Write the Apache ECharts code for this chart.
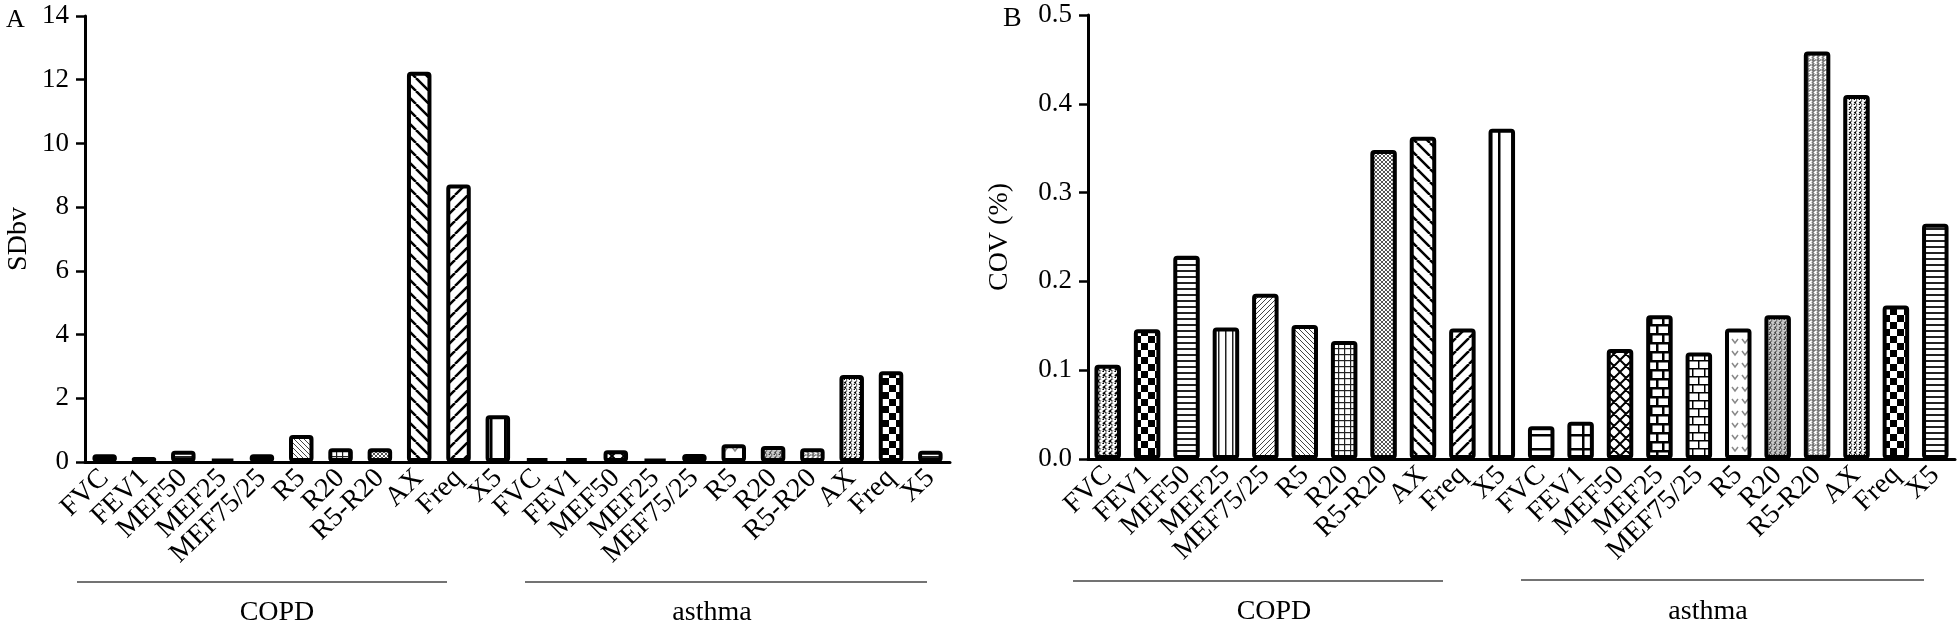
<!DOCTYPE html>
<html>
<head>
<meta charset="utf-8">
<script src="https://cdn.jsdelivr.net/npm/echarts@6/dist/echarts.min.js"></script>
<style>
html,body{margin:0;padding:0;background:#fff;}
#c{width:1960px;height:626px;}
</style>
</head>
<body>
<div id="c"></div>
<script>
// ---- data ----
const categories = ['FVC','FEV1','MEF50','MEF25','MEF75/25','R5','R20','R5-R20','AX','Freq','X5'];
const groups = ['COPD','asthma'];
const sdbvCOPD   = [0.24, 0.16, 0.35, 0.09, 0.24, 0.85, 0.43, 0.43, 12.25, 8.71, 1.47];
const sdbvAsthma = [0.12, 0.12, 0.37, 0.10, 0.25, 0.56, 0.50, 0.43, 2.73, 2.85, 0.35];
const covCOPD    = [0.106, 0.146, 0.229, 0.148, 0.186, 0.151, 0.133, 0.348, 0.363, 0.147, 0.372];
const covAsthma  = [0.037, 0.042, 0.124, 0.162, 0.120, 0.147, 0.162, 0.459, 0.410, 0.173, 0.265];
const sdbvTicks = [0, 14, 2];      // min, max, interval
const covTicks  = [0, 0.5, 0.1];

// ---- fill patterns (styles) ----
function mk(w, h, bg, draw) {
  const c = document.createElement('canvas');
  c.width = w; c.height = h;
  const g = c.getContext('2d');
  g.fillStyle = bg; g.fillRect(0, 0, w, h);
  g.strokeStyle = '#000'; g.fillStyle = '#000';
  draw(g, w, h);
  return { image: c, repeat: 'repeat' };
}
function diag(s, lw, col, fwd) {
  return mk(s, s, '#fff', (g) => {
    g.strokeStyle = col; g.lineWidth = lw; g.beginPath();
    for (let k = -1; k <= 1; k++) {
      if (fwd) { g.moveTo(k * s, s); g.lineTo(k * s + s, 0); }
      else { g.moveTo(k * s, 0); g.lineTo(k * s + s, s); }
    }
    g.stroke();
  });
}
function cross(s, lw, col) {
  return mk(s, s, '#fff', (g) => {
    g.strokeStyle = col; g.lineWidth = lw; g.beginPath();
    for (let k = -1; k <= 1; k++) {
      g.moveTo(k * s, s); g.lineTo(k * s + s, 0);
      g.moveTo(k * s, 0); g.lineTo(k * s + s, s);
    }
    g.stroke();
  });
}
function hlines(s, lw, col) { return mk(4, s, '#fff', (g) => { g.fillStyle = col; g.fillRect(0, 0, 4, lw); }); }
function vlines(s, lw, col) { return mk(s, 4, '#fff', (g) => { g.fillStyle = col; g.fillRect(0, 0, lw, 4); }); }
function grid(s, lw, col) { return mk(s, s, '#fff', (g) => { g.fillStyle = col; g.fillRect(0, 0, s, lw); g.fillRect(0, 0, lw, s); }); }
function checker(s) { return mk(2 * s, 2 * s, '#fff', (g) => { g.fillRect(0, 0, s, s); g.fillRect(s, s, s, s); }); }
function dots(s, r, bg, col) {
  return mk(s, s, bg, (g) => {
    g.fillStyle = col;
    g.beginPath(); g.arc(s / 2, s / 2, r, 0, Math.PI * 2); g.fill();
    g.beginPath(); g.arc(0, 0, r, 0, Math.PI * 2); g.arc(s, 0, r, 0, Math.PI * 2);
    g.arc(0, s, r, 0, Math.PI * 2); g.arc(s, s, r, 0, Math.PI * 2); g.fill();
  });
}
function brick(w, h, lw) {
  return mk(w, 2 * h, '#fff', (g) => {
    g.fillRect(0, 0, w, lw); g.fillRect(0, h, w, lw);
    g.fillRect(0, 0, lw, h); g.fillRect(w / 2, h, lw, h);
  });
}
function vmarks() {
  return mk(10, 12, '#fff', (g) => {
    g.strokeStyle = '#888'; g.lineWidth = 1.5; g.beginPath();
    g.moveTo(2, 3); g.lineTo(5, 7); g.lineTo(8, 3); g.stroke();
  });
}
const patterns = [
  dots(6, 1.8, '#000', '#fff'),   // FVC
  checker(7),                      // FEV1
  hlines(6, 2, '#222'),            // MEF50
  vlines(7, 1.5, '#222'),          // MEF25
  diag(5, 1, '#444', true),        // MEF75/25
  diag(5, 1, '#444', false),       // R5
  grid(6, 1.2, '#222'),            // R20
  cross(4, 1, '#555'),             // R5-R20
  diag(13, 2.5, '#000', false),    // AX
  diag(13, 2.5, '#000', true),     // Freq
  vlines(14, 2.5, '#000')          // X5
];
const patternsAsthma = [
  hlines(14, 2.5, '#000'),         // FVC
  grid(14, 2.5, '#000'),           // FEV1
  cross(12, 2, '#000'),            // MEF50
  brick(12, 9, 2.5),               // MEF25
  brick(12, 8, 1.5),               // MEF75/25
  vmarks(),                        // R5
  dots(5, 1.6, '#333', '#ccc'),    // R20
  dots(5, 1.0, '#fff', '#777'),    // R5-R20
  dots(5, 1.5, '#000', '#fff'),    // AX
  checker(7),                      // Freq
  hlines(6, 2, '#222')             // X5
];

const fam = 'Liberation Serif';
const keys = [];
groups.forEach(g => categories.forEach(c => keys.push(g + '|' + c)));

function barData(a, b) {
  return a.concat(b).map((v, i) => ({
    value: v,
    itemStyle: { color: i < categories.length ? patterns[i] : patternsAsthma[i - categories.length] }
  }));
}

function xAxisCfg(gi) {
  return {
    type: 'category', gridIndex: gi, data: keys,
    axisLine: { lineStyle: { color: '#000', width: 3 } },
    axisTick: { alignWithLabel: true, length: 12, lineStyle: { color: '#000', width: 2.5 } },
    axisLabel: { interval: 0, rotate: 44, margin: 12, color: '#000', fontFamily: fam, fontSize: 28,
      formatter: v => v.split('|')[1] }
  };
}
function yAxisCfg(gi, t, name, gap, fmt) {
  return {
    type: 'value', gridIndex: gi, min: t[0], max: t[1], interval: t[2],
    name: name, nameLocation: 'middle', nameGap: gap, nameRotate: 90,
    nameTextStyle: { color: '#000', fontFamily: fam, fontSize: 28 },
    splitLine: { show: false },
    axisLine: { show: true, lineStyle: { color: '#000', width: 3 } },
    axisTick: { show: true, length: 9, lineStyle: { color: '#000', width: 2.5 } },
    axisLabel: { color: '#000', fontFamily: fam, fontSize: 27, margin: 16, formatter: fmt }
  };
}

const chart = echarts.init(document.getElementById('c'), null, { renderer: 'canvas' });
const groupLines = [
  [77, 447, 582], [525, 927, 582], [1073, 1443, 581], [1521, 1924, 580]
];
const groupLabelPos = [[277, 613], [712, 613], [1274, 612], [1708, 612]];
const graphics = [];
groupLines.forEach(l => graphics.push({ type: 'line', shape: { x1: l[0], y1: l[2], x2: l[1], y2: l[2] },
  style: { stroke: '#444', lineWidth: 1.5 } }));
groupLabelPos.forEach((p, i) => graphics.push({ type: 'text', x: p[0], y: p[1],
  style: { text: groups[i % 2], fontFamily: fam, fontSize: 28, fill: '#000', align: 'center', verticalAlign: 'middle' } }));

chart.setOption({
  backgroundColor: '#fff',
  animation: false,
  title: [
    { text: 'A', left: 1, top: 2, textStyle: { fontFamily: fam, fontSize: 26, fontWeight: 'normal', color: '#000' } },
    { text: 'B', left: 998, top: 0, textStyle: { fontFamily: fam, fontSize: 28, fontWeight: 'normal', color: '#000' } }
  ],
  grid: [
    { left: 85, top: 16, width: 865, height: 446 },
    { left: 1088, top: 15, width: 867, height: 444 }
  ],
  xAxis: [xAxisCfg(0), xAxisCfg(1)],
  yAxis: [
    yAxisCfg(0, sdbvTicks, 'SDbv', 52, v => String(v)),
    yAxisCfg(1, covTicks, 'COV (%)', 74, v => v.toFixed(1))
  ],
  series: [
    { type: 'bar', xAxisIndex: 0, yAxisIndex: 0, barWidth: 24.5, data: barData(sdbvCOPD, sdbvAsthma),
      itemStyle: { borderColor: '#000', borderWidth: 4, borderRadius: 2 } },
    { type: 'bar', xAxisIndex: 1, yAxisIndex: 1, barWidth: 26.5, data: barData(covCOPD, covAsthma),
      itemStyle: { borderColor: '#000', borderWidth: 4, borderRadius: 2 } }
  ],
  graphic: graphics
});
</script>
</body>
</html>
